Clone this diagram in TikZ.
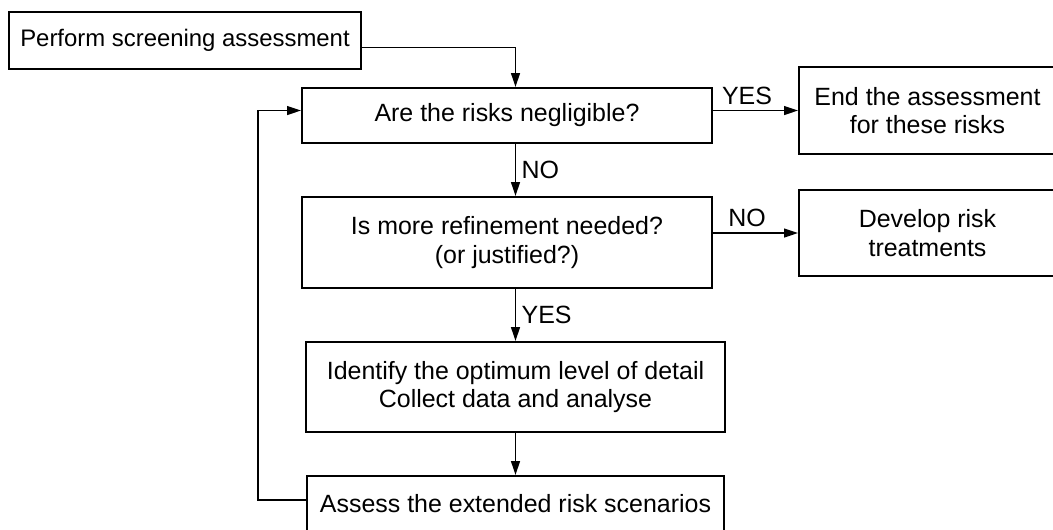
\documentclass[tikz,border=0pt]{standalone}
\usepackage{fontspec}
\setmainfont{Liberation Sans}
\usepackage{tikz}
\usetikzlibrary{arrows.meta}

\begin{document}
\begin{tikzpicture}[
    box/.style={draw, line width=1pt, align=center, inner sep=2pt,
        font=\fontsize{14.2}{16.3}\selectfont},
    flow/.style={line width=1pt, -{Triangle[length=8pt, width=5pt]}},
    tag/.style={font=\fontsize{14.2}{16.3}\selectfont, inner sep=3pt}
]
    \useasboundingbox (0,0) rectangle (21.06,-10.58);

    % Boxes
    \node[box, font=\fontsize{13.6}{16}\selectfont, minimum width=7.04cm, minimum height=1.14cm] (screen) at (3.70,-0.81) {Perform screening assessment};
    \node[box, minimum width=8.20cm, minimum height=1.10cm] (negl) at (10.14,-2.31) {Are the risks negligible?};
    \node[box, minimum width=5.14cm, minimum height=1.74cm] (stop) at (18.55,-2.21) {End the assessment\\for these risks};
    \node[box, minimum width=8.20cm, minimum height=1.82cm] (refine) at (10.14,-4.85) {Is more refinement needed?\\(or justified?)};
    \node[box, minimum width=5.14cm, minimum height=1.72cm] (treat) at (18.55,-4.66) {Develop risk\\treatments};
    \node[box, minimum width=8.38cm, minimum height=1.80cm] (detail) at (10.31,-7.74) {Identify the optimum level of detail\\Collect data and analyse};
    \node[box, minimum width=8.34cm, minimum height=1.12cm] (extend) at (10.31,-10.08) {Assess the extended risk scenarios};

    \coordinate (loopout) at (extend.west |- 0,-10.00);
    \coordinate (loopin) at (negl.west |- stop.west);

    % Main flow
    \draw[flow] ([yshift=-0.14cm]screen.east) -| (negl.north -| detail.north);
    \draw[flow] (negl.east |- stop.west) -- (stop.west)
        node[tag, pos=0.4, above] {YES};
    \draw[flow] (negl.south -| detail.north) -- (refine.north -| detail.north)
        node[tag, midway, right] {NO};
    \draw[flow] (refine.east |- treat.west) -- (treat.west)
        node[tag, pos=0.4, above] {NO};
    \draw[flow] (refine.south -| detail.north) -- (detail.north)
        node[tag, midway, right] {YES};
    \draw[flow] (detail.south) -- (extend.north);

    % Feedback loop
    \draw[flow] (loopout) -- ++(-0.96,0) |- (loopin);
\end{tikzpicture}
\end{document}
